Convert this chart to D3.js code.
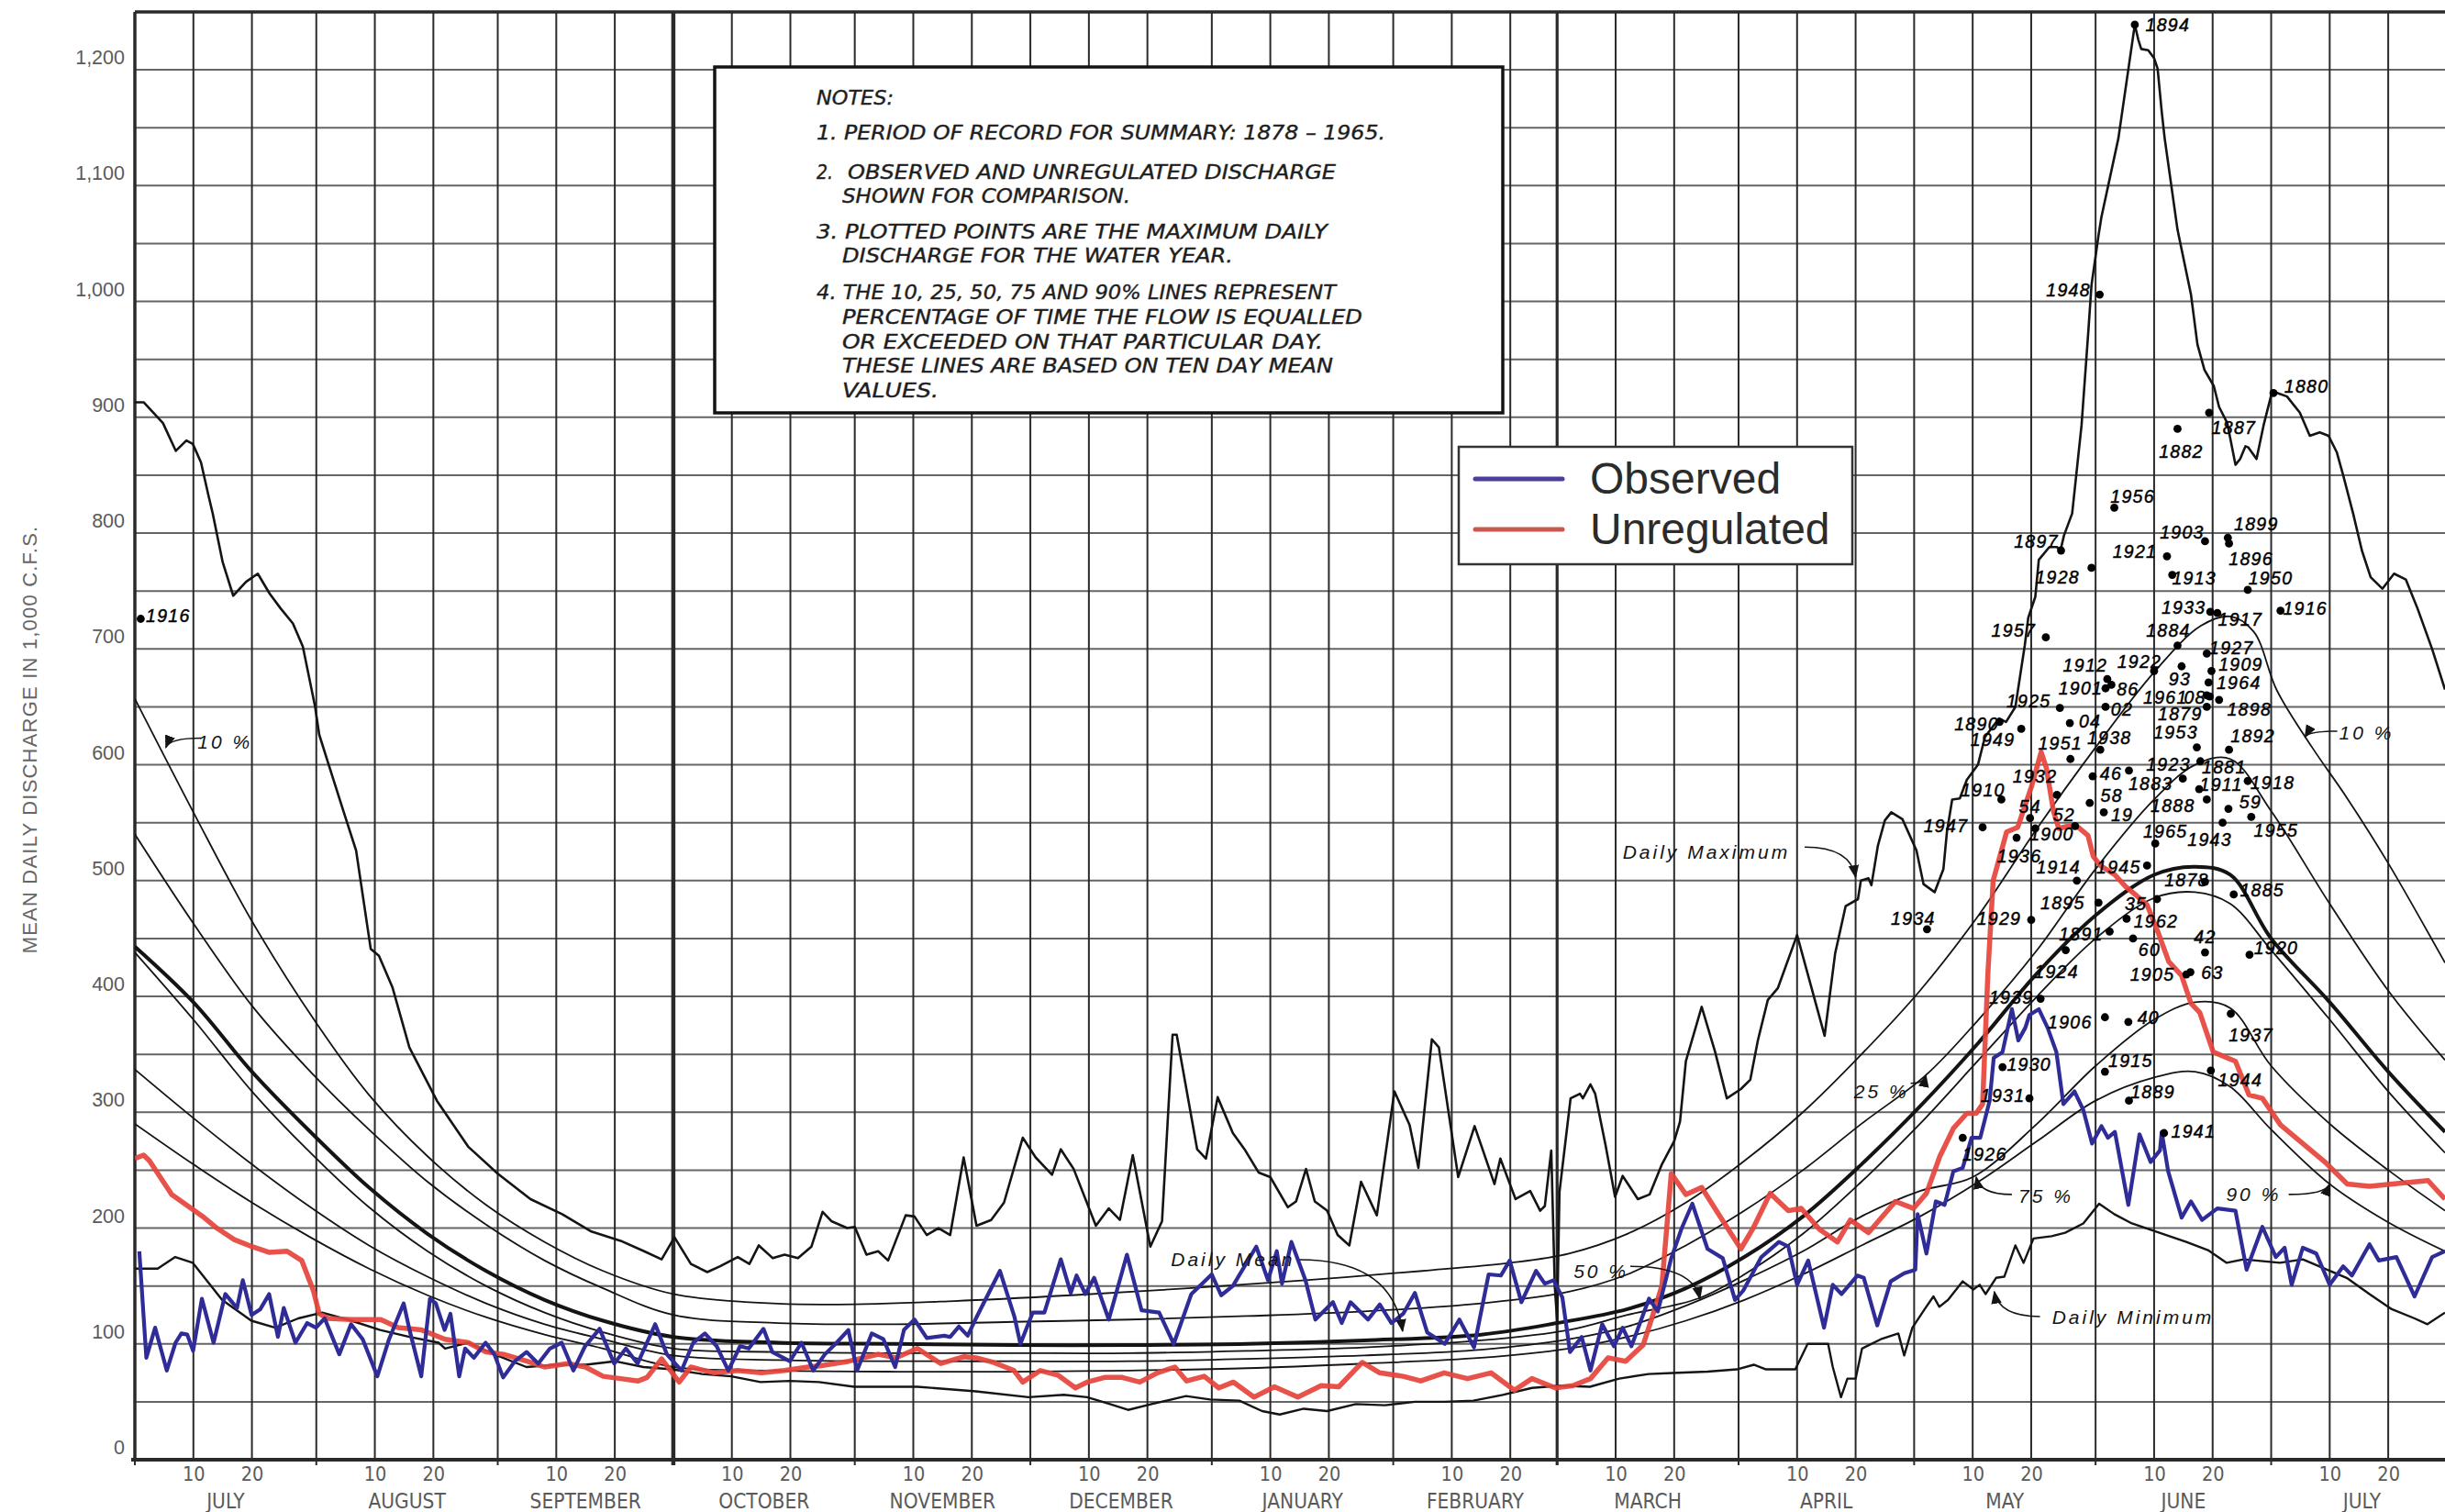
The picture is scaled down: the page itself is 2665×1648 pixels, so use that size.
<!DOCTYPE html>
<html>
<head>
<meta charset="utf-8">
<script src="https://cdn.jsdelivr.net/npm/d3@7"></script>
<style>
  html, body { margin: 0; padding: 0; background: #ffffff; }
  svg { display: block; }
</style>
</head>
<body>
<svg id="chart" width="2665" height="1648"></svg>
<script>
// ---------------------------------------------------------------------------
// Data: days counted from July 1 of the water year; discharge in 1,000 c.f.s.
// ---------------------------------------------------------------------------
const monthNames = ["JULY","AUGUST","SEPTEMBER","OCTOBER","NOVEMBER","DECEMBER",
                    "JANUARY","FEBRUARY","MARCH","APRIL","MAY","JUNE","JULY"];
const yTicks = [0,100,200,300,400,500,600,700,800,900,1000,1100,1200];

const dailyMaximum = [
  [0,913],[1.5,913],[4.8,895],[7,871],[8.8,880],[9.9,877],[11.3,861],[12.6,832],[13.3,817],
  [15,775],[16.8,746],[19,758],[21,765],[23,748],[24.9,735],[27,722],[28.7,702],[30.8,650],
  [31.5,626],[33,602],[35.7,559],[37.8,526],[40.3,441],[41.7,435],[44,408],[46.9,356],
  [51.6,310],[57,270],[62,247],[67.6,225],[73,212],[78,197],[83,189],[87,180],[90,173],
  [92.2,192],[95,169],[97.8,162],[100,167],[103,175],[105,169],[106.6,185],[109,174],
  [111,177],[113.3,174],[115.6,184],[117.5,214],[119,206],[121.7,200],[123,201],[125,177],
  [127,180],[128.7,172],[131.7,211],[133.2,210],[135.3,194],[137.3,200],[139.3,194],
  [141.6,261],[143.8,202],[146.3,207],[148.5,222],[151.7,278],[153.9,261],[156.7,246],
  [158.2,268],[160.4,251],[164.2,202],[166.4,217],[168.3,207],[170.5,263],[173.5,184],
  [175.5,206],[177.3,367],[178,367],[181.5,268],[183,260],[185,313],[187.6,282],[189.6,268],
  [192,248],[194,244],[197,218],[198.4,223],[200.1,251],[201.6,223],[203.7,215],[205.5,194],
  [207.5,185],[209.5,240],[212.2,211],[215.2,318],[217.8,289],[219.3,252],[221.6,363],
  [222.8,356],[226.1,244],[228.9,288],[232.3,238],[233.3,260],[235.9,225],[238.4,232],
  [240.1,215],[240.9,219],[242,267],[242.6,150],[243,120],[243.4,231],[245.3,312],
  [246.9,316],[247.4,312],[248.7,324],[249.5,316],[251.3,271],[252.9,227],[254.2,245],
  [256.8,225],[258.8,229],[260.9,255],[263,275],[264,292],[265,344],[267.7,391],[270,352],
  [272,312],[274.4,320],[276,328],[277.3,362],[279,397],[280.7,407],[284,453],[288.7,366],
  [290.5,437],[292.3,478],[294.4,484],[294.9,500],[296.2,502],[296.7,496],[297.8,530],
  [299,552],[300.1,559],[302,553],[304.4,526],[305.6,497],[307.5,490],[309,510],[309.6,542],
  [310.5,570],[311.8,571],[313,587],[314.9,600],[316.1,624],[318.5,640],[319.7,637],
  [321.3,650],[322.9,703],[323.5,727],[324.7,745],[325.3,777],[327.1,788],[328.4,788],
  [329,785],[329.6,798],[331,817],[332.6,893],[333.8,977],[334.3,1014],[335.5,1057],
  [336,1073],[338.9,1141],[341.7,1239],[342.3,1226],[342.8,1218],[344,1217],[345,1210],
  [345.6,1201],[346.3,1164],[346.8,1141],[349,1062],[351.3,1006],[352.4,963],[353.6,941],
  [355.2,927],[356.1,909],[357.5,895],[358.9,859],[359.7,864],[360.6,875],[361.1,874],
  [362.5,864],[363.7,893],[365.1,921],[366,921],[367.7,918],[369.9,904],[371.6,884],
  [373.3,887],[374.8,884],[376.2,870],[377.3,850],[379,817],[380.5,785],[382,762],
  [384,752],[386,765],[388,760],[390,735],[392.5,700],[394.7,665]
];

const dailyMinimum = [
  [0,165],[3.9,165],[6.9,175],[9.9,170],[14.9,138],[19.9,120],[24,114],[27.9,122],[32,127],
  [37,120],[41.9,112],[46.9,106],[51.9,101],[53,96],[56.9,101],[61.9,90],[66.9,80],[71.9,82],
  [77,82],[82,85],[86.9,80],[91.8,78],[96.9,74],[101.9,72],[106.9,67],[111.9,68],[116.9,67],
  [122.9,63],[127,63],[133.7,63],[143.7,59],[152.7,54],[158.7,56],[162.7,54],[166.6,48],
  [169.7,43],[173.7,48],[179.6,55],[183.7,52],[188.7,51],[192.6,42],[195.6,39],[199.7,44],
  [203.7,42],[208.6,48],[213.6,47],[218.7,50],[223.7,50],[228.7,51],[233.7,56],[238.7,62],
  [243.6,64],[248.6,63],[253.6,70],[258.6,74],[263.6,75],[268.7,76],[273.7,78],[276.6,82],
  [278.7,78],[283.7,78],[285.8,100],[289.3,100],[290.1,80],[291.5,54],[292.6,70],[294,70],
  [295.1,96],[298.3,104],[301.3,109],[302.3,90],[303.7,114],[305.8,130],[307.3,141],
  [308.3,132],[309.8,138],[312.3,154],[314.1,147],[315.2,151],[316.2,143],[318,157],
  [319.4,158],[321.3,185],[322.7,170],[324.4,191],[327.5,193],[329.8,196],[332.9,204],
  [335.6,221],[338.2,212],[341.2,204],[345.9,196],[350.5,188],[354.2,181],[357.4,170],
  [360.3,173],[366.5,170],[370.4,173],[374.1,165],[377.9,157],[381.8,143],[385.6,130],
  [389.5,122],[391.7,117],[394.7,127]
];

// Ten-day-mean duration lines (percent of time equalled or exceeded) and the daily mean
const pct10 = [
  [0,657],[10,559],[20,465],[31,377],[40,315],[50,262],[60,220],[70,188],[80,163],[92,143],
  [105,136],[120,134],[140,137],[160,142],[180,148],[200,155],[220,163],[235,170],[245,178],
  [255,195],[265,222],[275,258],[285,300],[295,350],[305,405],[315,470],[325,545],[335,615],
  [345,680],[353,720],[358,728],[362,715],[366,664],[372,615],[378,571],[385,515],[394.7,429]
];
const pct25 = [
  [0,540],[10,463],[20,392],[30,335],[40,285],[50,240],[60,203],[70,172],[80,148],[92,125],
  [110,118],[130,117],[150,119],[170,121],[190,124],[210,128],[230,135],[245,145],[255,160],
  [265,185],[275,215],[285,250],[295,290],[306,332],[315,380],[325,440],[335,510],[345,570],
  [352,600],[358,605],[365,560],[375,480],[385,405],[394.7,345]
];
const dailyMean = [
  [0,443],[10,395],[20,335],[30,283],[40,235],[50,195],[60,163],[70,138],[80,120],[92,106],
  [110,101],[130,100],[150,99],[170,99],[190,100],[210,103],[230,108],[243,118],[255,130],
  [265,148],[275,175],[285,210],[295,255],[305,305],[315,360],[325,420],[335,470],[345,505],
  [352,512],[358,505],[365,450],[375,395],[385,335],[394.7,283]
];
const pct50 = [
  [0,438],[10,380],[20,318],[30,265],[40,218],[50,180],[60,150],[70,127],[80,110],[92,96],
  [110,93],[130,92],[150,92],[170,92],[190,94],[210,97],[230,103],[245,112],[255,125],
  [267,139],[275,160],[285,195],[295,240],[305,290],[315,345],[325,400],[335,450],[345,485],
  [352,490],[358,480],[365,440],[375,380],[385,318],[394.7,265]
];
const pct75 = [
  [0,337],[10,295],[20,255],[30,218],[40,185],[50,158],[60,135],[70,117],[80,104],[92,90],
  [110,86],[130,85],[150,85],[170,85],[190,87],[210,90],[230,95],[245,104],[255,115],
  [265,133],[275,155],[285,180],[295,210],[305,232],[314,244],[325,290],[335,340],[345,380],
  [352,395],[358,390],[365,340],[375,290],[385,250],[394.7,215]
];
const pct90 = [
  [0,290],[10,255],[20,222],[30,192],[40,165],[50,142],[60,123],[70,108],[80,96],[92,80],
  [110,77],[130,76],[150,76],[170,77],[190,79],[210,83],[230,88],[245,96],[255,106],
  [265,120],[275,138],[285,160],[295,185],[305,210],[315,240],[325,275],[335,310],[345,330],
  [352,335],[358,322],[365,285],[375,238],[385,205],[394.7,180]
];

const observed = [
  [0.76,180],[1.96,88],[3.46,114],[5.45,77],[6.95,101],[7.95,109],[8.95,108],[9.95,94],
  [11.45,139],[13.45,101],[15.45,143],[17.45,131],[18.44,155],[19.94,125],[21.44,130],
  [22.94,143],[24.44,106],[25.44,131],[27.44,101],[29.44,118],[30.94,114],[32.43,122],
  [34.93,91],[36.93,117],[38.93,104],[41.43,72],[43.43,104],[45.93,135],[46.93,112],
  [48.93,72],[50.42,139],[51.42,135],[52.92,112],[53.92,126],[55.42,72],[56.42,96],
  [57.92,88],[59.92,101],[61.42,91],[62.92,71],[64.92,85],[66.92,93],[68.92,83],[70.92,96],
  [72.92,101],[74.92,77],[76.92,98],[79.4,113],[81.9,83],[83.9,96],[85.9,83],[88.9,117],
  [90.9,91],[93.4,77],[95.4,101],[97.4,109],[99.4,98],[101.4,77],[103.4,98],[104.9,96],
  [107.4,113],[108.9,93],[111.9,85],[113.9,101],[115.9,77],[117.9,91],[119.9,101],
  [121.9,112],[123.4,77],[125.9,109],[127.9,104],[129.9,80],[131.4,112],[133.2,121],
  [135.3,105],[138.3,107],[139.3,106],[140.8,115],[142.3,107],[143.8,123],[147.8,163],
  [150.3,123],[151.3,100],[153.4,127],[155.4,127],[158.2,173],[159.9,144],[160.9,159],
  [162.4,143],[163.9,157],[166.4,121],[169.5,177],[172,129],[175,127],[177.5,100],
  [180.5,143],[184,160],[185.6,142],[187.6,150],[191.6,184],[193.6,155],[195.1,180],
  [196,152],[197.6,188],[200,155],[201.7,121],[204.7,136],[206.2,118],[207.7,136],
  [210.7,121],[212.7,134],[214.7,118],[216.7,126],[218.7,144],[220.8,110],[223.8,100],
  [226.3,121],[228.8,97],[231.3,160],[233.4,159],[234.9,172],[236.9,136],[239.4,163],
  [240.9,152],[242.4,155],[243.9,140],[245.2,93],[247.2,106],[248.7,77],[250.7,117],
  [252.7,98],[254.2,114],[255.7,98],[258.7,139],[260.2,128],[262.5,174],[264.3,200],
  [266.1,221],[268.7,182],[271.3,174],[273.4,138],[274.8,146],[277.9,175],[280.9,188],
  [282.5,184],[284,151],[285.9,172],[288.6,114],[290.1,151],[291.6,143],[294.3,159],
  [295.4,157],[297.7,116],[300,154],[302.3,161],[304.2,164],[304.6,212],[306.1,178],
  [307.7,223],[309.2,220],[310.7,249],[312.3,252],[313.8,278],[315.3,278],[316.9,310],
  [317.6,347],[319.1,352],[320.7,389],[321.8,362],[323,373],[323.7,384],[325.3,389],
  [326.8,373],[328.3,352],[329.5,307],[331.4,318],[332.9,302],[334.4,273],[336,288],
  [337.1,278],[338.3,283],[340.6,220],[342.5,281],[344.4,257],[346,267],[346.3,283],
  [347.4,249],[349.7,209],[351.3,223],[353.2,207],[355.8,217],[358.9,215],[360.8,164],
  [363.5,201],[365.8,175],[367.3,183],[368.5,151],[370.4,183],[372.7,178],[375,151],
  [377.3,167],[378.8,159],[381.8,186],[383.4,172],[386.4,175],[389.5,141],[392.5,175],
  [394.7,180]
];

const unregulated = [
  [0,260],[1.5,263],[2.5,258],[6.3,229],[11.6,210],[14,200],[17,190],[20,184],[23,179],
  [26,180],[28.5,172],[30.5,146],[31.5,126],[33,122],[37,121],[42,121],[45,114],[49,112],
  [53,104],[57,101],[60,93],[63,91],[67,85],[70,80],[74,83],[77,80],[80,72],[83,70],[86,68],
  [87.5,71],[90,87],[93,67],[95,80],[99,75],[103,77],[107,75],[111,77],[115,80],[117,81],
  [122,85],[127,91],[130,88],[133.7,96],[137.7,83],[141.7,89],[143.7,88],[146.7,84],
  [150.2,77],[151.7,67],[154.7,77],[157.7,73],[160.7,62],[162.7,67],[165.7,71],[168.7,71],
  [171.7,67],[174.7,75],[177.7,80],[179.7,68],[182.7,72],[185.2,62],[187.7,67],[191.2,54],
  [194.7,63],[198.7,54],[202.7,64],[205.7,63],[209.7,84],[212.7,75],[216.7,72],[219.7,68],
  [223.7,75],[227.7,70],[231.7,75],[235.7,60],[238.7,70],[242.7,62],[245.7,64],[248.7,70],
  [251.7,88],[254.7,85],[257.7,99],[259.3,124],[260.9,150],[262.5,247],[265,229],
  [267.7,235],[270.2,215],[274.4,182],[276.5,200],[279.4,230],[282.5,215],[284.7,217],
  [287.8,199],[290.9,188],[293.1,207],[296.2,196],[300.8,223],[303.9,217],[306.1,230],
  [308.4,262],[310.7,286],[313,299],[314.6,299],[315.7,307],[316.6,420],[317.5,500],
  [319.8,542],[321.7,546],[324.1,582],[325.7,611],[326.6,597],[327.8,560],[328.7,545],
  [330.3,547],[331.8,547],[333.7,539],[334.6,521],[335.8,513],[338.3,505],[340.1,495],
  [342,487],[343.8,479],[345.7,455],[347.5,430],[349.7,418],[351.3,394],[352.8,386],
  [355.1,352],[358.9,344],[361.2,315],[363.5,312],[366.6,289],[370.4,273],[374.2,257],
  [378,238],[381.8,236],[385.7,238],[391.8,241],[394.7,225]
];

// Maximum daily discharge of each water year: [label, day, discharge]
const annualPeaks = [
  ["1916",1,726],["1894",341.7,1239],["1948",335.7,1006],["1887",354.4,904],["1882",349,890],
  ["1880",365.4,921],["1956",338.2,822],["1897",329.1,785],["1928",334.3,770],["1903",353.7,793],
  ["1899",357.6,796],["1896",357.8,791],["1921",347.2,780],["1913",348.1,764],["1950",361,751],
  ["1933",354.6,732],["1917",355.8,731],["1916",366.6,733],["1957",326.5,710],["1884",349,703],
  ["1927",354,696],["1912",337,674],["1922",345,681],["93",349.7,685],["1909",354.8,681],
  ["1964",354.3,671],["1901",336.7,666],["86",337.7,669],["1961",354,660],["08",354.5,659],
  ["1898",356.1,656],["02",336.7,650],["1879",354,650],["1925",328.9,649],["04",330.6,636],
  ["1890",318.6,637],["1949",322.3,631],["1938",335.8,613],["1951",330.7,605],["1953",352.3,615],
  ["1892",357.8,613],["46",334.5,590],["1923",340.7,595],["1881",352.9,603],["1883",349.9,588],
  ["1911",352.7,579],["1918",361,586],["1932",328.4,574],["1910",318.9,570],["58",334,567],
  ["1888",354,570],["59",357.7,562],["54",323.8,554],["52",331.5,547],["19",336.4,559],
  ["1955",361.6,555],["1943",356.7,550],["1947",315.7,546],["1900",324.7,545],["1936",321.5,537],
  ["1965",345.2,532],["1914",331.8,500],["1945",343.8,513],["1878",353.7,499],["1885",358.6,488],
  ["1895",335.5,481],["35",345.5,484],["1962",340.3,467],["1934",306.2,458],["1929",324,466],
  ["1891",337.4,456],["60",341.4,450],["42",353.7,438],["1920",361.3,436],["1905",350.5,419],
  ["63",351.2,421],["1924",329.9,440],["1939",325.6,398],["1906",336.6,382],["40",340.6,378],
  ["1930",319.1,339],["1915",336.6,335],["1931",323.7,312],["1889",340.7,310],["1941",346.7,282],
  ["1926",312.3,278],["1937",358.1,385],["1944",354.7,336]
];

const notesLines = [
  "NOTES:",
  "1. PERIOD OF RECORD FOR SUMMARY:  1878 \u2013 1965.",
  "2.",
  "OBSERVED AND UNREGULATED DISCHARGE",
  "SHOWN FOR COMPARISON.",
  "3. PLOTTED POINTS ARE THE MAXIMUM DAILY",
  "DISCHARGE FOR THE WATER YEAR.",
  "4. THE 10, 25, 50, 75 AND 90% LINES REPRESENT",
  "PERCENTAGE OF TIME THE FLOW IS EQUALLED",
  "OR EXCEEDED ON THAT PARTICULAR DAY.",
  "THESE LINES ARE BASED ON TEN DAY MEAN",
  "VALUES."
];
const legendLabels = ["Observed", "Unregulated"];

// ---------------------------------------------------------------------------
// Layout (pixel placement kept apart from the data above)
// ---------------------------------------------------------------------------
const W = 2665, H = 1648;
const plot = { left: 147, right: 2665, top: 13, bottom: 1591 };
const lastDay = 394.7;
const monthLengths = [31,31,30,31,30,31,31,28,31,30,31,30,31];

const COLORS = { grid: "#2a2a2a", ink: "#141414", tick: "#5a5a5a",
                 blue: "#2f2c98", red: "#e5433b", legendBlue: "#4a3f9f", legendRed: "#c9584f" };

// label offsets (px) for the annual-peak year labels, relative to each dot
const peakLabelOffsets = {
  "1916a":[30,-4], "1894":[36,0], "1948":[-34,-5], "1887":[27,16], "1882":[4,25], "1880":[36,-7],
  "1956":[20,-12], "1897":[-27,-10], "1928":[-37,10], "1903":[-25,-10], "1899":[31,-15],
  "1896":[24,17], "1921":[-35,-5], "1913":[24,3], "1950":[25,-13], "1933":[-29,-5],
  "1917":[25,7], "1916b":[27,-3], "1957":[-35,-8], "1884":[-10,-17], "1927":[27,-6],
  "1912":[-24,-15], "1922":[-16,-10], "93":[-2,14], "1909":[32,-7], "1964":[33,0],
  "1901":[-27,0], "86":[18,5], "1961":[-45,2], "08":[-16,1], "1898":[33,10], "02":[18,3],
  "1879":[-29,8], "1925":[-34,-8], "04":[22,-2], "1890":[-25,2], "1949":[-31,12],
  "1938":[10,-13], "1951":[-11,-17], "1953":[-23,-17], "1892":[26,-15], "46":[20,-3],
  "1923":[43,-7], "1881":[26,6], "1883":[-35,5], "1911":[24,-5], "1918":[27,2],
  "1932":[-24,-20], "1910":[-20,-10], "58":[24,-8], "1888":[-37,7], "59":[24,-8],
  "54":[0,-13], "52":[-12,-12], "19":[20,3], "1955":[27,15], "1943":[-14,18],
  "1947":[-40,-2], "1900":[18,6], "1936":[3,20], "1965":[11,-13], "1914":[-20,-15],
  "1945":[-31,2], "1878":[-20,-2], "1885":[31,-5], "1895":[-39,0], "35":[-23,5],
  "1962":[32,3], "1934":[-15,-12], "1929":[-35,-2], "1891":[-31,3], "60":[18,12],
  "42":[0,-17], "1920":[29,-8], "1905":[-37,0], "63":[24,0], "1924":[-10,23],
  "1939":[-32,-2], "1906":[-38,5], "40":[22,-5], "1930":[29,-3], "1915":[28,-12],
  "1931":[-29,-3], "1889":[26,-10], "1941":[32,-2], "1926":[24,18], "1937":[22,23],
  "1944":[32,10]
};

// ---------------------------------------------------------------------------
// Scales
// ---------------------------------------------------------------------------
const start = Date.UTC(2001, 6, 1);
const toDate = d => new Date(start + d * 864e5);
const x = d3.scaleUtc().domain([toDate(0), toDate(lastDay)]).range([plot.left, plot.right]);
const y = d3.scaleLinear().domain([0, 1250]).range([plot.bottom, plot.top]);
const px = d => x(toDate(d[0]));
const py = d => y(d[1]);

const svg = d3.select("#chart");
svg.append("rect").attr("width", W).attr("height", H).attr("fill", "#ffffff");

const defs = svg.append("defs");
defs.append("clipPath").attr("id", "plotClip")
  .append("rect").attr("x", plot.left).attr("y", plot.top)
  .attr("width", plot.right - plot.left).attr("height", plot.bottom - plot.top);

// ---------------------------------------------------------------------------
// Grid
// ---------------------------------------------------------------------------
const grid = svg.append("g").attr("class", "grid");

const monthStarts = d3.utcMonth.range(toDate(0), toDate(lastDay + 1));
const tenDayMarks = d3.utcDay.range(toDate(0), toDate(lastDay))
  .filter(d => d.getUTCDate() === 11 || d.getUTCDate() === 21);
const verticals = monthStarts.concat(tenDayMarks);

grid.selectAll("line.v").data(verticals).join("line")
  .attr("class", "v")
  .attr("x1", d => x(d)).attr("x2", d => x(d))
  .attr("y1", plot.top).attr("y2", d => d.getUTCDate() === 1 ? plot.bottom + 6 : plot.bottom)
  .attr("stroke", COLORS.grid)
  .attr("stroke-width", d => (d.getUTCDate() === 1 && (d.getUTCMonth() === 9)) ? 4.5
                            : (d.getUTCDate() === 1 && d.getUTCMonth() === 2) ? 3.2 : 2);

grid.selectAll("line.h").data(d3.range(50, 1201, 50)).join("line")
  .attr("class", "h")
  .attr("x1", plot.left).attr("x2", plot.right)
  .attr("y1", d => y(d)).attr("y2", d => y(d))
  .attr("stroke", COLORS.grid).attr("stroke-opacity", 0.72).attr("stroke-width", 2);

// frame: top, left, bottom
grid.append("line").attr("x1", plot.left).attr("x2", plot.right)
  .attr("y1", plot.top).attr("y2", plot.top).attr("stroke", COLORS.grid).attr("stroke-width", 3.5);
grid.append("line").attr("x1", plot.left).attr("x2", plot.left)
  .attr("y1", plot.top).attr("y2", plot.bottom).attr("stroke", COLORS.grid).attr("stroke-width", 3.5);
grid.append("line").attr("x1", plot.left - 4).attr("x2", plot.right)
  .attr("y1", plot.bottom).attr("y2", plot.bottom).attr("stroke", COLORS.grid).attr("stroke-width", 4);

// ---------------------------------------------------------------------------
// Axes
// ---------------------------------------------------------------------------
const yAxis = d3.axisLeft(y).tickValues(yTicks).tickFormat(d3.format(",")).tickSize(0).tickPadding(11);
const gy = svg.append("g").attr("transform", `translate(${plot.left},0)`).call(yAxis);
gy.select(".domain").remove();
gy.selectAll("text")
  .attr("dy", "-0.3em")
  .attr("font-family", "'Liberation Sans', Arial, sans-serif")
  .attr("font-size", 21.5).attr("fill", COLORS.tick);

const xAxis = d3.axisBottom(x).tickValues(tenDayMarks)
  .tickFormat(d => String(d.getUTCDate() - 1)).tickSize(0).tickPadding(8);
const gx = svg.append("g").attr("transform", `translate(0,${plot.bottom})`).call(xAxis);
gx.select(".domain").remove();
gx.selectAll("text")
  .attr("font-family", "'Liberation Sans Narrow', 'DejaVu Sans Condensed', 'Liberation Sans', sans-serif")
  .attr("font-size", 21.5).attr("fill", COLORS.tick);

// month names centred in each month
let acc = 0;
const monthCentres = monthLengths.map(len => { const c = acc + len / 2; acc += len; return c; });
svg.append("g").selectAll("text").data(monthNames).join("text")
  .attr("x", (d, i) => x(toDate(monthCentres[i])))
  .attr("y", 1644)
  .attr("text-anchor", "middle")
  .attr("font-family", "'Liberation Sans Narrow', 'DejaVu Sans Condensed', 'Liberation Sans', sans-serif")
  .attr("font-size", 22.5).attr("fill", COLORS.tick)
  .text(d => d);

svg.append("text")
  .attr("transform", "translate(40,806) rotate(-90)")
  .attr("text-anchor", "middle")
  .attr("font-family", "'Liberation Sans', Arial, sans-serif")
  .attr("font-size", 22).attr("letter-spacing", 1.2).attr("fill", "#666")
  .text("MEAN DAILY DISCHARGE IN 1,000 C.F.S.");

// ---------------------------------------------------------------------------
// Notes box
// ---------------------------------------------------------------------------
const notes = svg.append("g");
notes.append("rect").attr("x", 779).attr("y", 73).attr("width", 859).attr("height", 377)
  .attr("fill", "#fff").attr("stroke", COLORS.ink).attr("stroke-width", 3.5);
const noteLayout = [
  [890,114,84],[890,152,620],[890,195,0],[924,195,532],[918,221,314],[890,260,557],
  [918,286,426],[890,326,566],[918,353,567],[918,380,524],[918,406,535],[918,433,105]
];
notes.selectAll("text").data(notesLines).join("text")
  .attr("x", (d, i) => noteLayout[i][0]).attr("y", (d, i) => noteLayout[i][1])
  .attr("font-family", "'Liberation Sans Narrow', 'DejaVu Sans Condensed', 'Liberation Sans', sans-serif")
  .attr("font-style", "italic").attr("font-size", 21).attr("fill", "#1e1e1e")
  .attr("stroke", "#1e1e1e").attr("stroke-width", 0.35)
  .each(function(d, i) {
    if (noteLayout[i][2] > 0) d3.select(this).attr("textLength", noteLayout[i][2]).attr("lengthAdjust", "spacingAndGlyphs");
  })
  .text(d => d);

// ---------------------------------------------------------------------------
// Legend
// ---------------------------------------------------------------------------
const legend = svg.append("g");
legend.append("rect").attr("x", 1590).attr("y", 487).attr("width", 429).attr("height", 128)
  .attr("fill", "#fff").attr("stroke", "#333").attr("stroke-width", 2.5);
const legendRows = [{ y: 522, c: COLORS.legendBlue }, { y: 577, c: COLORS.legendRed }];
legend.selectAll("line").data(legendLabels).join("line")
  .attr("x1", 1608).attr("x2", 1703)
  .attr("y1", (d, i) => legendRows[i].y).attr("y2", (d, i) => legendRows[i].y)
  .attr("stroke", (d, i) => legendRows[i].c).attr("stroke-width", 5).attr("stroke-linecap", "round");
legend.selectAll("text").data(legendLabels).join("text")
  .attr("x", 1733).attr("y", (d, i) => legendRows[i].y + 16)
  .attr("font-family", "'Liberation Sans', Arial, sans-serif")
  .attr("font-size", 48).attr("fill", "#2b2b2b")
  .text(d => d);

// ---------------------------------------------------------------------------
// Curves
// ---------------------------------------------------------------------------
const data = svg.append("g").attr("clip-path", "url(#plotClip)");
const smooth = d3.line().x(px).y(py).curve(d3.curveCatmullRom.alpha(0.5));
const jagged = d3.line().x(px).y(py).curve(d3.curveLinear);

[pct10, pct25, pct50, pct75, pct90].forEach(s => {
  data.append("path").attr("d", smooth(s)).attr("fill", "none")
    .attr("stroke", COLORS.ink).attr("stroke-width", 1.8);
});
data.append("path").attr("d", smooth(dailyMean)).attr("fill", "none")
  .attr("stroke", COLORS.ink).attr("stroke-width", 4);

data.append("path").attr("d", jagged(dailyMaximum)).attr("fill", "none")
  .attr("stroke", COLORS.ink).attr("stroke-width", 2.6).attr("stroke-linejoin", "round");
data.append("path").attr("d", jagged(dailyMinimum)).attr("fill", "none")
  .attr("stroke", COLORS.ink).attr("stroke-width", 2.4).attr("stroke-linejoin", "round");

data.append("path").attr("d", jagged(unregulated)).attr("fill", "none")
  .attr("stroke", COLORS.red).attr("stroke-width", 5.5).attr("stroke-opacity", 0.92)
  .attr("stroke-linejoin", "round");
data.append("path").attr("d", jagged(observed)).attr("fill", "none")
  .attr("stroke", COLORS.blue).attr("stroke-width", 4.2).attr("stroke-linejoin", "round");

// ---------------------------------------------------------------------------
// Annual peaks
// ---------------------------------------------------------------------------
let seen1916 = 0;
const peaks = annualPeaks.map(p => {
  let key = p[0];
  if (key === "1916") key = (seen1916++ === 0) ? "1916a" : "1916b";
  return { label: p[0], day: p[1], value: p[2], off: peakLabelOffsets[key] || [24, 0] };
});
const pk = svg.append("g");
pk.selectAll("circle").data(peaks).join("circle")
  .attr("cx", d => x(toDate(d.day))).attr("cy", d => y(d.value)).attr("r", 4.4)
  .attr("fill", "#000");
pk.selectAll("text").data(peaks).join("text")
  .attr("x", d => x(toDate(d.day)) + d.off[0]).attr("y", d => y(d.value) + d.off[1])
  .attr("dy", "0.36em").attr("text-anchor", "middle")
  .attr("font-family", "'Liberation Sans', Arial, sans-serif")
  .attr("font-style", "italic").attr("font-size", 19.5).attr("letter-spacing", 1.3)
  .attr("fill", "#000").attr("stroke", "#000").attr("stroke-width", 0.45)
  .text(d => d.label);

// ---------------------------------------------------------------------------
// Curve annotations with leaders
// ---------------------------------------------------------------------------
const annotations = [
  { text: "10 %",          at: [15.4, 620],  from: [11.3, 623],  to: [5.3, 615] },
  { text: "Daily Maximum", at: [268.5, 525], from: [285.3, 529], to: [294, 503] },
  { text: "Daily Mean",    at: [187.6, 173], from: [199, 172.7], to: [216.6, 111] },
  { text: "Daily Minimum", at: [341.4, 123], from: [325.5, 123.6], to: [317.7, 145] },
  { text: "50 %",          at: [250.5, 163], from: [255.5, 167], to: [267.4, 139] },
  { text: "25 %",          at: [298.4, 318], from: [303.4, 325], to: [306, 332] },
  { text: "75 %",          at: [326.5, 228], from: [320.7, 229], to: [314.6, 244] },
  { text: "90 %",          at: [362, 229],   from: [368, 229],   to: [375, 238] },
  { text: "10 %",          at: [381.3, 628], from: [376.3, 629], to: [370.8, 624] }
];
defs.append("marker").attr("id", "arrow")
  .attr("viewBox", "0 0 10 10").attr("refX", 9).attr("refY", 5)
  .attr("markerWidth", 9).attr("markerHeight", 9).attr("orient", "auto")
  .append("path").attr("d", "M0,1 L10,5 L0,9 Z").attr("fill", COLORS.ink);

const ann = svg.append("g");
ann.selectAll("path").data(annotations).join("path")
  .attr("d", d => {
    const x0 = x(toDate(d.from[0])), y0 = y(d.from[1]);
    const x1 = x(toDate(d.to[0])), y1 = y(d.to[1]);
    return `M${x0},${y0} Q${x1 - (x1 - x0) * 0.1},${y0} ${x1},${y1}`;
  })
  .attr("fill", "none").attr("stroke", COLORS.ink).attr("stroke-width", 1.6)
  .attr("marker-end", "url(#arrow)");
ann.selectAll("text").data(annotations).join("text")
  .attr("x", d => x(toDate(d.at[0]))).attr("y", d => y(d.at[1]))
  .attr("dy", "0.35em").attr("text-anchor", "middle")
  .attr("font-family", "'Liberation Sans', Arial, sans-serif")
  .attr("font-style", "italic").attr("font-size", 21).attr("letter-spacing", 3)
  .attr("fill", COLORS.ink)
  .text(d => d.text);
</script>
</body>
</html>
